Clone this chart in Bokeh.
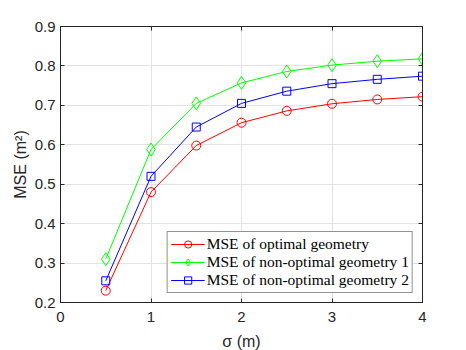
from bokeh.plotting import figure
from bokeh.models import LinearAxis, Range1d, FixedTicker, Legend, LegendItem
from bokeh.embed import file_html
from bokeh.resources import INLINE

sigma = [0.5, 1.0, 1.5, 2.0, 2.5, 3.0, 3.5, 4.0]
mse_opt = [0.230, 0.480, 0.598, 0.656, 0.686, 0.704, 0.715, 0.722]
mse_non1 = [0.310, 0.588, 0.705, 0.757, 0.786, 0.802, 0.812, 0.818]
mse_non2 = [0.255, 0.520, 0.645, 0.705, 0.736, 0.755, 0.766, 0.774]
labels = ["MSE of optimal geometry", "MSE of non-optimal geometry 1", "MSE of non-optimal geometry 2"]
x_ticks = [0, 1, 2, 3, 4]
y_ticks = [0.2, 0.3, 0.4, 0.5, 0.6, 0.7, 0.8, 0.9]

SANS = "Liberation Sans"
SERIF = "Liberation Serif"
AX = "#262626"

p = figure(output_backend="svg", toolbar_location=None,
           frame_width=362, frame_height=276,
           x_range=Range1d(0, 4), y_range=Range1d(0.2, 0.9),
           min_border_left=60, min_border_right=26, min_border_top=26, min_border_bottom=46)
p.background_fill_color = "white"
p.border_fill_color = "white"
p.outline_line_color = AX
p.outline_line_width = 1

for ax in (p.xaxis[0], p.yaxis[0]):
    ax.major_tick_in = 4
    ax.major_tick_out = 0
    ax.minor_tick_in = 0
    ax.minor_tick_out = 0
    ax.axis_line_color = AX
    ax.major_tick_line_color = AX
    ax.major_label_text_font = SANS
    ax.major_label_text_font_size = "15px"
    ax.major_label_text_color = AX
    ax.axis_label_text_font = SANS
    ax.axis_label_text_font_size = "16px"
    ax.axis_label_text_font_style = "normal"
    ax.axis_label_text_color = AX

p.xaxis[0].ticker = FixedTicker(ticks=x_ticks)
p.yaxis[0].ticker = FixedTicker(ticks=y_ticks)
p.xaxis[0].axis_label = "σ (m)"
p.yaxis[0].axis_label = "MSE (m²)"
p.xaxis[0].major_label_standoff = 9
p.yaxis[0].major_label_standoff = 5
p.xaxis[0].axis_label_standoff = 8
p.yaxis[0].axis_label_standoff = 3

for loc, ticks in (("right", y_ticks), ("above", x_ticks)):
    ax = LinearAxis(ticker=FixedTicker(ticks=ticks))
    ax.major_label_text_font_size = "0px"
    ax.major_label_text_alpha = 0
    ax.major_tick_in = 4
    ax.major_tick_out = 0
    ax.minor_tick_in = 0
    ax.minor_tick_out = 0
    ax.axis_line_color = AX
    ax.major_tick_line_color = AX
    ax.major_label_standoff = 0
    p.add_layout(ax, loc)

p.xgrid.ticker = FixedTicker(ticks=x_ticks)
p.ygrid.ticker = FixedTicker(ticks=y_ticks)
p.xgrid.grid_line_color = "#e3e3e3"
p.ygrid.grid_line_color = "#e3e3e3"

r1l = p.line(sigma, mse_opt, line_color="#ff0000", line_width=1)
r1m = p.scatter(sigma, mse_opt, marker="circle", size=9, line_color="#ff0000", fill_color=None, line_width=1)
r2l = p.line(sigma, mse_non1, line_color="#00ff00", line_width=1)
r2m = p.scatter(sigma, mse_non1, marker="diamond", size=13, line_color="#00ff00", fill_color=None, line_width=1)
r3l = p.line(sigma, mse_non2, line_color="#0000ff", line_width=1)
r3m = p.scatter(sigma, mse_non2, marker="square", size=8, line_color="#0000ff", fill_color=None, line_width=1)

legend = Legend(items=[LegendItem(label=labels[0], renderers=[r1l, r1m]),
                       LegendItem(label=labels[1], renderers=[r2l, r2m]),
                       LegendItem(label=labels[2], renderers=[r3l, r3m])],
                location="bottom_right")
legend.margin = 9
legend.padding = 3
legend.spacing = 0
legend.glyph_width = 34
legend.glyph_height = 18
legend.label_height = 18
legend.label_standoff = 2
legend.label_text_font = SERIF
legend.label_text_font_size = "15.5px"
legend.label_text_color = "black"
legend.border_line_color = AX
legend.border_line_width = 1
legend.background_fill_color = "white"
legend.background_fill_alpha = 1
p.add_layout(legend, "center")

open("out.html", "w").write(file_html(p, INLINE))
